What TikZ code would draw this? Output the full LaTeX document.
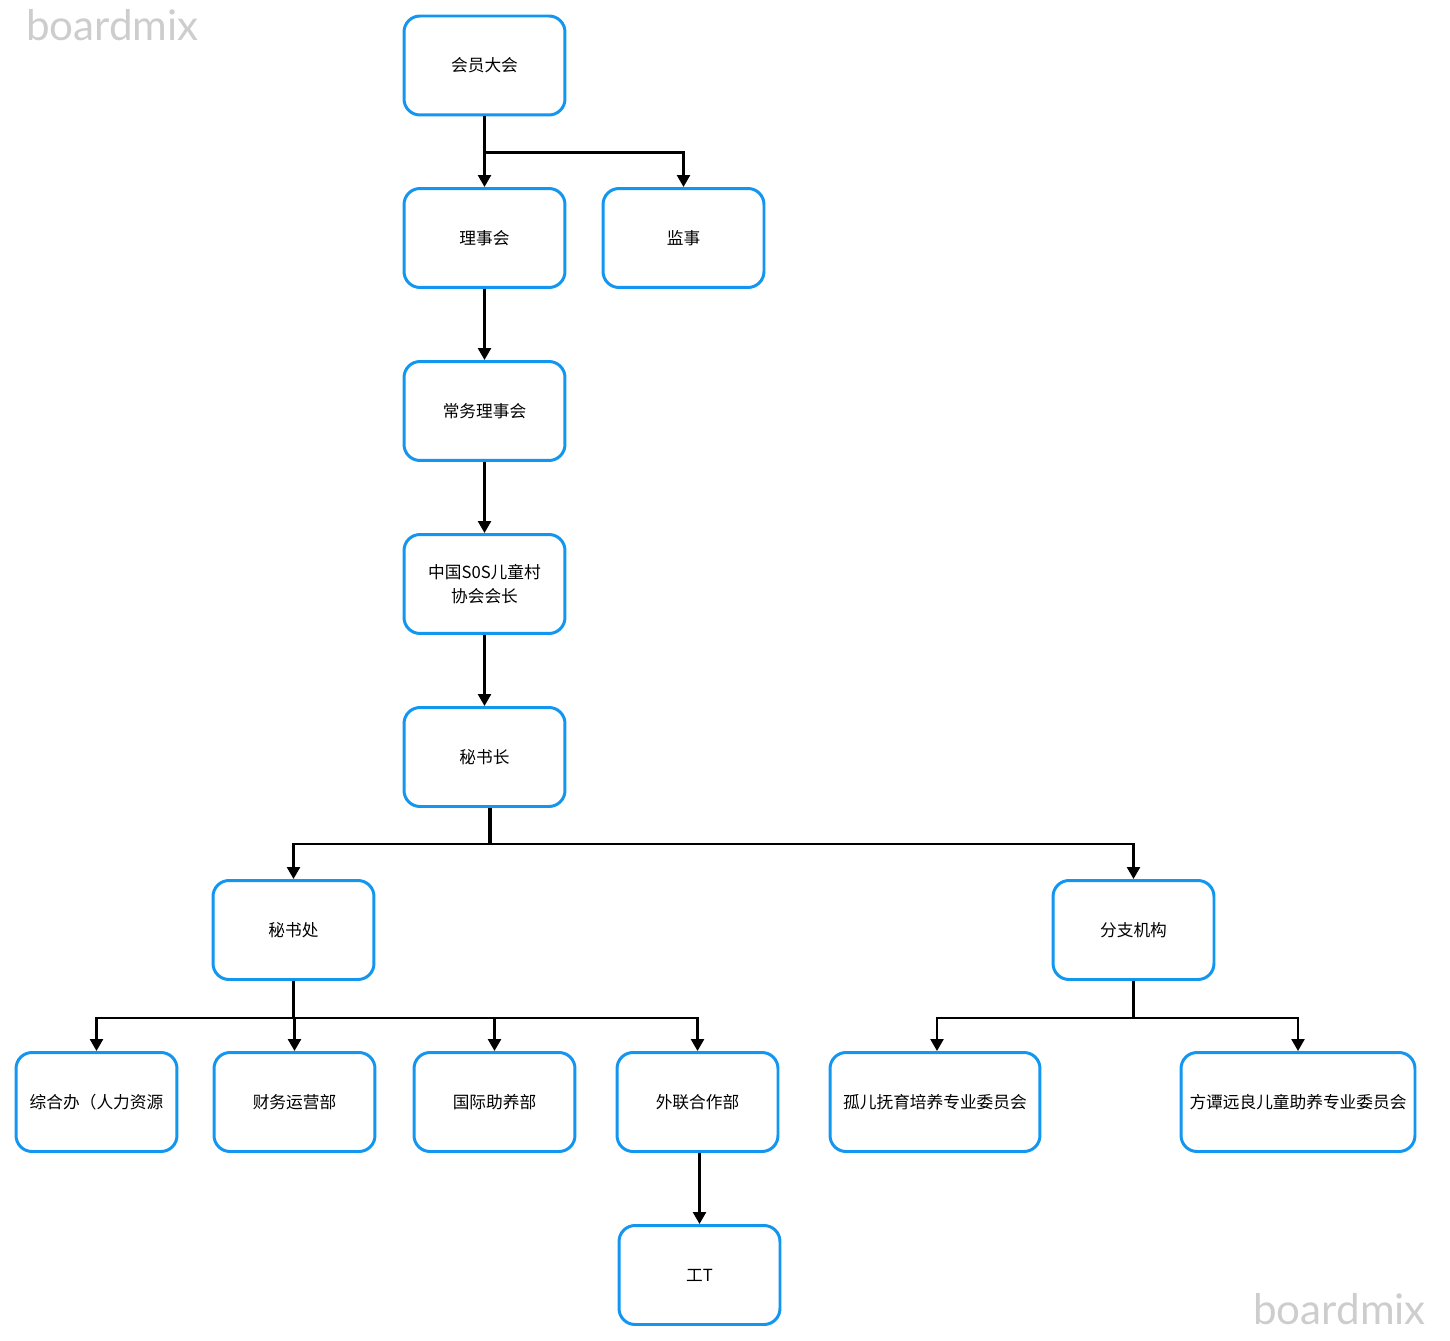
\documentclass[tikz,border=0pt]{standalone}
\usepackage{fontspec}
\setmainfont{Noto Sans CJK SC}
\newfontfamily\wmfont{Lato}
\usetikzlibrary{arrows.meta}
\definecolor{boxblue}{RGB}{18,150,240}
\definecolor{wmgray}{RGB}{205,205,205}
\tikzset{
  orgbox/.style={draw=boxblue, line width=1.7pt, rounded corners=0.32cm, fill=white,
    minimum width=3.22cm, minimum height=1.98cm, align=center,
    font=\fontsize{9.5}{14}\selectfont},
  link/.style={line width=1.4pt, -{Triangle[width=0.26cm,length=0.24cm]}},
  stub/.style={line width=1.9pt},
  wmark/.style={text=wmgray, font=\wmfont\fontsize{24}{24}\selectfont, inner sep=0pt}
}
\begin{document}
\begin{tikzpicture}[x=0.02cm, y=-0.02cm]
    \useasboundingbox (0,0) rectangle (1450,1341);
    % 水印
    \node[wmark, anchor=base west] (wm1) at (26,41) {boardmix};
    \node[wmark, anchor=base west] (wm2) at (1253,1324) {boardmix};
    % 上层
    \node[orgbox] (hydh) at (484.5,65.5) {会员大会};
    \node[orgbox] (lsh) at (484.5,238) {理事会};
    \node[orgbox] (js) at (683.5,238) {监事};
    \node[orgbox] (cwlsh) at (484.5,411) {常务理事会};
    \node[orgbox] (hz) at (484.5,584) {中国S0S儿童村\\协会会长};
    \node[orgbox] (msz) at (484.5,757) {秘书长};
    % 中层
    \node[orgbox] (msc) at (293.5,930) {秘书处};
    \node[orgbox] (fzjg) at (1133.5,930) {分支机构};
    % 下层
    \node[orgbox] (zhb) at (96.5,1102) {综合办（人力资源};
    \node[orgbox] (cwyy) at (294.5,1102) {财务运营部};
    \node[orgbox] (gjzy) at (494.5,1102) {国际助养部};
    \node[orgbox] (wlhz) at (697.5,1102) {外联合作部};
    \node[orgbox, minimum width=4.2cm] (gepy) at (935,1102) {孤儿抚育培养专业委员会};
    \node[orgbox, minimum width=4.68cm] (ftyl) at (1298,1102) {方谭远良儿童助养专业委员会};
    \node[orgbox] (it) at (699.5,1275) {工T};
    % 连线
    \draw[link] (hydh.south) -- (lsh.north);
    \draw[link] (hydh.south) -- ++(0,36) -| (js.north);
    \draw[link] (lsh) -- (cwlsh);
    \draw[link] (cwlsh) -- (hz);
    \draw[link] (hz) -- (msz);
    \draw[stub] ([xshift=0.11cm]msz.south) -- ++(0,36) coordinate (b1);
    \draw[link] (b1) -| (msc.north);
    \draw[link] (b1) -| (fzjg.north);
    \draw[stub] (msc.south) -- ++(0,37) coordinate (b2);
    \draw[link] (b2) -| (zhb.north);
    \draw[link] (b2) -| (cwyy.north);
    \draw[link] (b2) -| (gjzy.north);
    \draw[link] (b2) -| (wlhz.north);
    \draw[stub] (fzjg.south) -- ++(0,37) coordinate (b3);
    \draw[link] (b3) -| ([xshift=0.04cm]gepy.north);
    \draw[link] (b3) -| (ftyl.north);
    \draw[link] (wlhz.south -| it.north) -- (it.north);
\end{tikzpicture}
\end{document}
